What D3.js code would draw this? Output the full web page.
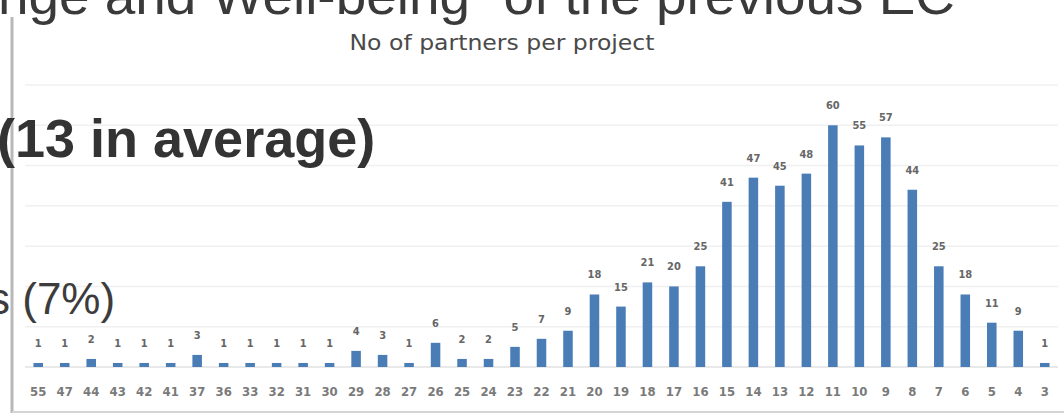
<!DOCTYPE html>
<html>
<head>
<meta charset="utf-8">
<script src="https://d3js.org/d3.v7.min.js"></script>
<style>
  body { margin: 0; background: #fff; }
  svg { display: block; }
</style>
</head>
<body>
<div id="chart"></div>
<script>
// data
const partners = ["55","47","44","43","42","41","37","36","33","32","31","30","29","28","27","26","25","24","23","22","21","20","19","18","17","16","15","14","13","12","11","10","9","8","7","6","5","4","3"];
const projects = [1,1,2,1,1,1,3,1,1,1,1,1,4,3,1,6,2,2,5,7,9,18,15,21,20,25,41,47,45,48,60,55,57,44,25,18,11,9,1];
const yTicks = [0,10,20,30,40,50,60,70];

const W = 1064, H = 417;

const svg = d3.select("#chart")
  .append("svg")
    .attr("width", W)
    .attr("height", H);

// slide text behind the chart
svg.append("text")
  .attr("x", -2)
  .attr("y", 14)
  .attr("textLength", 957)
  .attr("lengthAdjust", "spacingAndGlyphs")
  .style("font-family", "Liberation Sans, Arial, sans-serif")
  .style("font-size", "52px")
  .attr("fill", "#3a3a3a")
  .text("nge and Well-being\u201D of the previous EC");

// chart frame
svg.append("line")
  .attr("x1", 12).attr("x2", 12)
  .attr("y1", 17).attr("y2", 413)
  .attr("stroke", "#b8b8b8")
  .attr("stroke-width", 3);
svg.append("line")
  .attr("x1", 12).attr("x2", W)
  .attr("y1", 412).attr("y2", 412)
  .attr("stroke", "#d4d4d4")
  .attr("stroke-width", 2);

// scales
const x = d3.scaleBand()
  .domain(partners)
  .range([25, 1058])
  .paddingInner(0.64)
  .paddingOuter(0.32);

const y = d3.scaleLinear()
  .domain([0, 70])
  .range([367, 85]);

// gridlines
svg.append("g")
  .selectAll("line")
  .data(yTicks)
  .join("line")
    .attr("x1", 25)
    .attr("x2", 1058)
    .attr("y1", d => y(d))
    .attr("y2", d => y(d))
    .attr("stroke", d => d === 0 ? "#e2e2e2" : "#f0f0f0")
    .attr("stroke-width", 1.5);

// other slide text
svg.append("text")
  .attr("x", -3)
  .attr("y", 157)
  .style("font-family", "Liberation Sans, Arial, sans-serif")
  .style("font-size", "54px")
  .style("font-weight", "bold")
  .attr("fill", "#333")
  .text("(13 in average)");

svg.append("text")
  .attr("x", -12)
  .attr("y", 314)
  .style("font-family", "Liberation Sans, Arial, sans-serif")
  .style("font-size", "44px")
  .attr("fill", "#3c3c3c")
  .text("s (7%)");

// chart title
svg.append("text")
  .attr("x", 502)
  .attr("y", 50)
  .attr("text-anchor", "middle")
  .attr("textLength", 305)
  .attr("lengthAdjust", "spacingAndGlyphs")
  .style("font-family", "DejaVu Sans Condensed, Liberation Sans Narrow, sans-serif")
  .style("font-size", "22px")
  .attr("fill", "#4a4a4a")
  .text("No of partners per project");

// x axis labels
const xAxis = svg.append("g")
  .attr("transform", "translate(0,367)")
  .call(d3.axisBottom(x).tickSize(0).tickPadding(20));
xAxis.select(".domain").remove();
xAxis.selectAll("text")
  .style("font-family", "Liberation Sans Narrow, DejaVu Sans Condensed, sans-serif")
  .style("font-size", "13px")
  .style("font-weight", "bold")
  .attr("fill", "#7a7a7a");

// bars
svg.append("g")
  .selectAll("rect")
  .data(projects)
  .join("rect")
    .attr("x", (d, i) => x(partners[i]))
    .attr("y", d => y(d))
    .attr("width", x.bandwidth())
    .attr("height", d => y(0) - y(d))
    .attr("fill", "#4a7db6");

// value labels
svg.append("g")
  .selectAll("text")
  .data(projects)
  .join("text")
    .attr("x", (d, i) => x(partners[i]) + x.bandwidth() / 2)
    .attr("y", d => y(d) - 16)
    .attr("text-anchor", "middle")
    .style("font-family", "Liberation Sans Narrow, DejaVu Sans Condensed, sans-serif")
    .style("font-size", "11px")
    .style("font-weight", "bold")
    .attr("fill", "#666")
    .text(d => d);
</script>
</body>
</html>
